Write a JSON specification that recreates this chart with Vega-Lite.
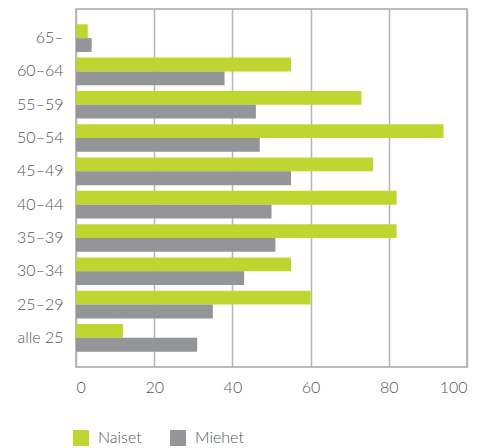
{
  "$schema": "https://vega.github.io/schema/vega-lite/v6.json",
  "autosize": {"type": "none"},
  "width": 391,
  "height": 358,
  "padding": {"left": 76, "top": 9, "right": 25, "bottom": 81},
  "background": "white",
  "config": {
    "font": "Lato",
    "view": {"stroke": "#a6a6a6", "strokeWidth": 1.5},
    "axis": {"labelFont": "Lato", "labelFontSize": 16, "labelColor": "#555555", "labelFontWeight": 300}
  },
  "data": {
    "values": [
      {"group": "65–", "sex": "Naiset", "value": 3},
      {"group": "65–", "sex": "Miehet", "value": 4},
      {"group": "60–64", "sex": "Naiset", "value": 55},
      {"group": "60–64", "sex": "Miehet", "value": 38},
      {"group": "55–59", "sex": "Naiset", "value": 73},
      {"group": "55–59", "sex": "Miehet", "value": 46},
      {"group": "50–54", "sex": "Naiset", "value": 94},
      {"group": "50–54", "sex": "Miehet", "value": 47},
      {"group": "45–49", "sex": "Naiset", "value": 76},
      {"group": "45–49", "sex": "Miehet", "value": 55},
      {"group": "40–44", "sex": "Naiset", "value": 82},
      {"group": "40–44", "sex": "Miehet", "value": 50},
      {"group": "35–39", "sex": "Naiset", "value": 82},
      {"group": "35–39", "sex": "Miehet", "value": 51},
      {"group": "30–34", "sex": "Naiset", "value": 55},
      {"group": "30–34", "sex": "Miehet", "value": 43},
      {"group": "25–29", "sex": "Naiset", "value": 60},
      {"group": "25–29", "sex": "Miehet", "value": 35},
      {"group": "alle 25", "sex": "Naiset", "value": 12},
      {"group": "alle 25", "sex": "Miehet", "value": 31}
    ]
  },
  "mark": {"type": "bar"},
  "encoding": {
    "y": {
      "field": "group",
      "type": "nominal",
      "sort": ["65–", "60–64", "55–59", "50–54", "45–49", "40–44", "35–39", "30–34", "25–29", "alle 25"],
      "scale": {"paddingInner": 0.17, "paddingOuter": 0.46},
      "axis": {"title": null, "ticks": false, "domain": false, "labelPadding": 13, "grid": false}
    },
    "yOffset": {
      "field": "sex",
      "type": "nominal",
      "sort": ["Naiset", "Miehet"],
      "scale": {"paddingInner": 0, "paddingOuter": 0}
    },
    "x": {
      "field": "value",
      "type": "quantitative",
      "scale": {"domain": [0, 100], "nice": false},
      "axis": {"title": null, "values": [0, 20, 40, 60, 80, 100], "ticks": false, "domain": false, "labelPadding": 12, "grid": true, "gridColor": "#b5b5b5", "gridWidth": 1.5, "gridOpacity": 1}
    },
    "color": {
      "field": "sex",
      "type": "nominal",
      "sort": ["Naiset", "Miehet"],
      "scale": {"domain": ["Naiset", "Miehet"], "range": ["#bed62f", "#939598"]},
      "legend": {
        "title": null,
        "orient": "none",
        "direction": "horizontal",
        "legendX": -3,
        "legendY": 421,
        "symbolType": "square",
        "symbolSize": 256,
        "symbolStrokeWidth": 0,
        "labelFont": "Lato",
        "labelFontSize": 16,
        "labelFontWeight": 300,
        "labelColor": "#555555",
        "labelOffset": 9,
        "columnPadding": 28
      }
    }
  }
}
